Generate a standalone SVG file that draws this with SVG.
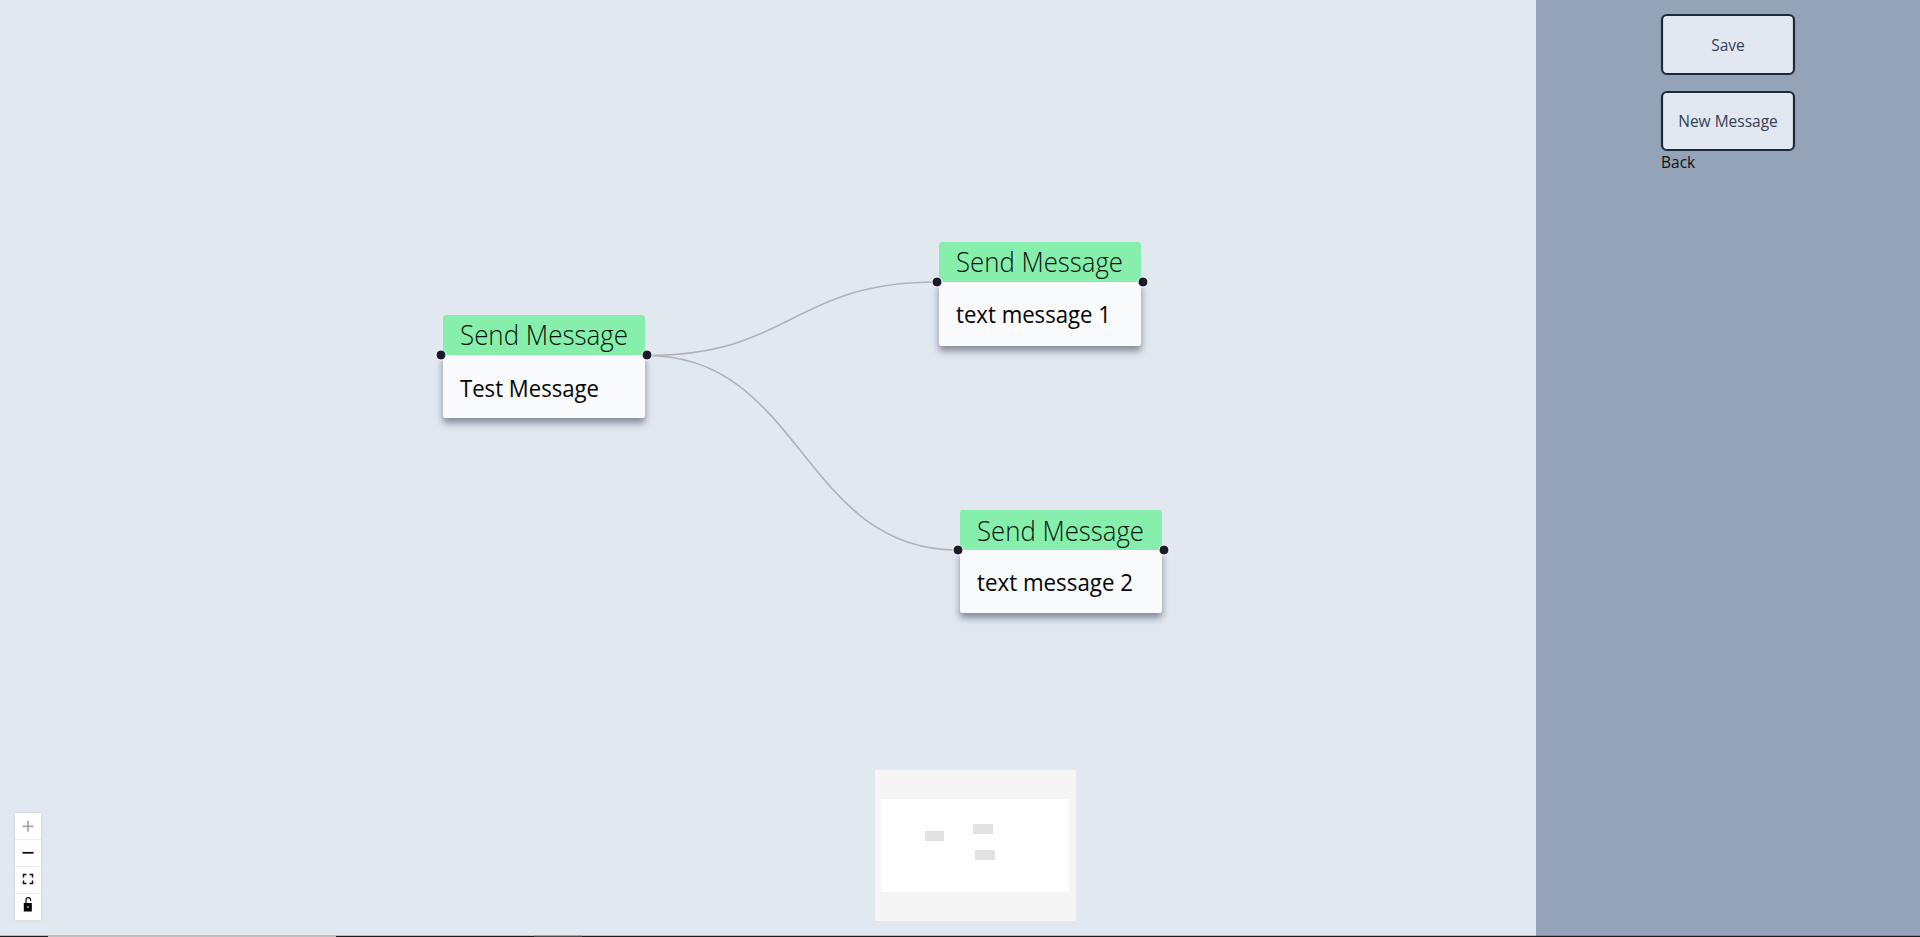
<svg xmlns="http://www.w3.org/2000/svg" width="1920" height="937" viewBox="0 0 1920 937">
<defs>
<style>
.hdr{fill:#86efac}
.body{fill:#f8fafc}
.htxt{font-family:"Open Sans","Lato","Liberation Sans",sans-serif;font-weight:300;font-size:28px;fill:#07140d}
.btxt{font-family:"Open Sans","Liberation Sans",sans-serif;font-weight:400;font-size:24.5px;fill:#050505}
.dot{fill:#1a192b;stroke:#ffffff;stroke-width:1}
.edge{fill:none;stroke:#b1b1b7;stroke-width:1.6}
.btn{fill:#e2e8f0;stroke:#1e293b;stroke-width:2.2}
.btnt{font-family:"Open Sans","Liberation Sans",sans-serif;font-size:15.5px;fill:#334155;text-anchor:middle}
.ctl{fill:#fefefe}
.mini{fill:#e2e2e2}
</style>
<filter id="sh" x="-20%" y="-20%" width="140%" height="160%">
<feDropShadow dx="0" dy="5" stdDeviation="3.5" flood-color="#1e293b" flood-opacity="0.5"/>
</filter>
<filter id="csh" x="-50%" y="-10%" width="200%" height="120%">
<feDropShadow dx="0" dy="0" stdDeviation="1.5" flood-color="#000" flood-opacity="0.12"/>
</filter>
</defs>
<rect x="0" y="0" width="1920" height="937" fill="#e2e8f0"/>
<rect x="1536" y="0" width="384" height="937" fill="#94a3b8"/>

<g id="connectors">
<path class="edge" d="M647,355.5 C792,355.5 792,282 937,282"/>
<path class="edge" d="M647,355.5 C802,355.5 802,550 958,550"/>
</g>

<g id="node-test">
<g filter="url(#sh)">
<path class="body" d="M443,355 H645 V415 a3,3 0 0 1 -3,3 H446 a3,3 0 0 1 -3,-3 Z"/>
</g>
<path class="hdr" d="M443,355 V318 a3,3 0 0 1 3,-3 H642 a3,3 0 0 1 3,3 V355 Z"/>
<text class="htxt" x="460" y="345" textLength="168" lengthAdjust="spacingAndGlyphs">Send Message</text>
<text class="btxt" x="460" y="397" textLength="139" lengthAdjust="spacingAndGlyphs">Test Message</text>
<circle class="dot" cx="441" cy="355" r="5"/>
<circle class="dot" cx="647" cy="355" r="5"/>
</g>

<g id="node-msg1">
<g filter="url(#sh)">
<path class="body" d="M939,282 H1141 V343 a3,3 0 0 1 -3,3 H942 a3,3 0 0 1 -3,-3 Z"/>
</g>
<path class="hdr" d="M939,282 V245 a3,3 0 0 1 3,-3 H1138 a3,3 0 0 1 3,3 V282 Z"/>
<text class="htxt" x="956" y="272" textLength="167" lengthAdjust="spacingAndGlyphs">Send Message</text>
<text class="btxt" x="956" y="323" textLength="155" lengthAdjust="spacingAndGlyphs">text message 1</text>
<circle class="dot" cx="937" cy="282" r="5"/>
<circle class="dot" cx="1143" cy="282" r="5"/>
</g>

<g id="node-msg2">
<g filter="url(#sh)">
<path class="body" d="M960,550 H1162 V610 a3,3 0 0 1 -3,3 H963 a3,3 0 0 1 -3,-3 Z"/>
</g>
<path class="hdr" d="M960,550 V513 a3,3 0 0 1 3,-3 H1159 a3,3 0 0 1 3,3 V550 Z"/>
<text class="htxt" x="977" y="541" textLength="167" lengthAdjust="spacingAndGlyphs">Send Message</text>
<text class="btxt" x="977" y="591" textLength="156" lengthAdjust="spacingAndGlyphs">text message 2</text>
<circle class="dot" cx="958" cy="550" r="5"/>
<circle class="dot" cx="1164" cy="550" r="5"/>
</g>

<g id="sidebar">
<g id="btn-save">
<rect class="btn" x="1662" y="15" width="132" height="59" rx="5"/>
<text class="btnt" x="1728" y="51">Save</text>
</g>
<g id="btn-new">
<rect class="btn" x="1662" y="92" width="132" height="58" rx="5"/>
<text class="btnt" x="1728" y="127">New Message</text>
</g>
<text x="1661" y="168" font-family="Open Sans, Liberation Sans, sans-serif" font-size="15.5" fill="#111">Back</text>
</g>

<g id="controls">
<rect class="ctl" x="15" y="813" width="26" height="107" filter="url(#csh)"/>
<g stroke="#eeeeee" stroke-width="1">
<line x1="15" y1="839.5" x2="41" y2="839.5"/>
<line x1="15" y1="866.5" x2="41" y2="866.5"/>
<line x1="15" y1="893.5" x2="41" y2="893.5"/>
</g>
<g stroke="#a0a0a0" stroke-width="1.6">
<line x1="22.5" y1="826.3" x2="33.5" y2="826.3"/>
<line x1="28" y1="820.8" x2="28" y2="831.8"/>
</g>
<line x1="22.5" y1="852.8" x2="33.5" y2="852.8" stroke="#111" stroke-width="1.8"/>
<g fill="none" stroke="#111" stroke-width="1.5">
<path d="M23.5,877.5 V874.5 H26.5"/>
<path d="M29.5,874.5 H32.5 V877.5"/>
<path d="M32.5,880.5 V883.5 H29.5"/>
<path d="M26.5,883.5 H23.5 V880.5"/>
<path d="M26,903 V900 a2.3,2.3 0 0 1 4.6,0 V901" stroke-width="1.2"/>
</g>
<rect x="23.8" y="903" width="8" height="8.5" fill="#000"/>
<rect x="27.3" y="906.3" width="1.4" height="1.4" fill="#fff"/>
</g>

<g id="minimap">
<rect x="875" y="770" width="201" height="151" fill="#f6f5f5"/>
<rect x="881" y="799" width="188" height="93" fill="#ffffff"/>
<rect class="mini" x="925" y="831" width="19" height="10" rx="1"/>
<rect class="mini" x="973" y="824" width="20" height="10" rx="1"/>
<rect class="mini" x="975" y="850" width="20" height="10" rx="1"/>
</g>

<g id="bottom-line">
<rect x="0" y="935.8" width="1920" height="1.2" fill="#1c1c1e"/>
<rect x="48" y="935.8" width="288" height="1.2" fill="#c0c0c0"/>
<rect x="534" y="935.8" width="48" height="1.2" fill="#4a4a4a"/>
</g>
</svg>
